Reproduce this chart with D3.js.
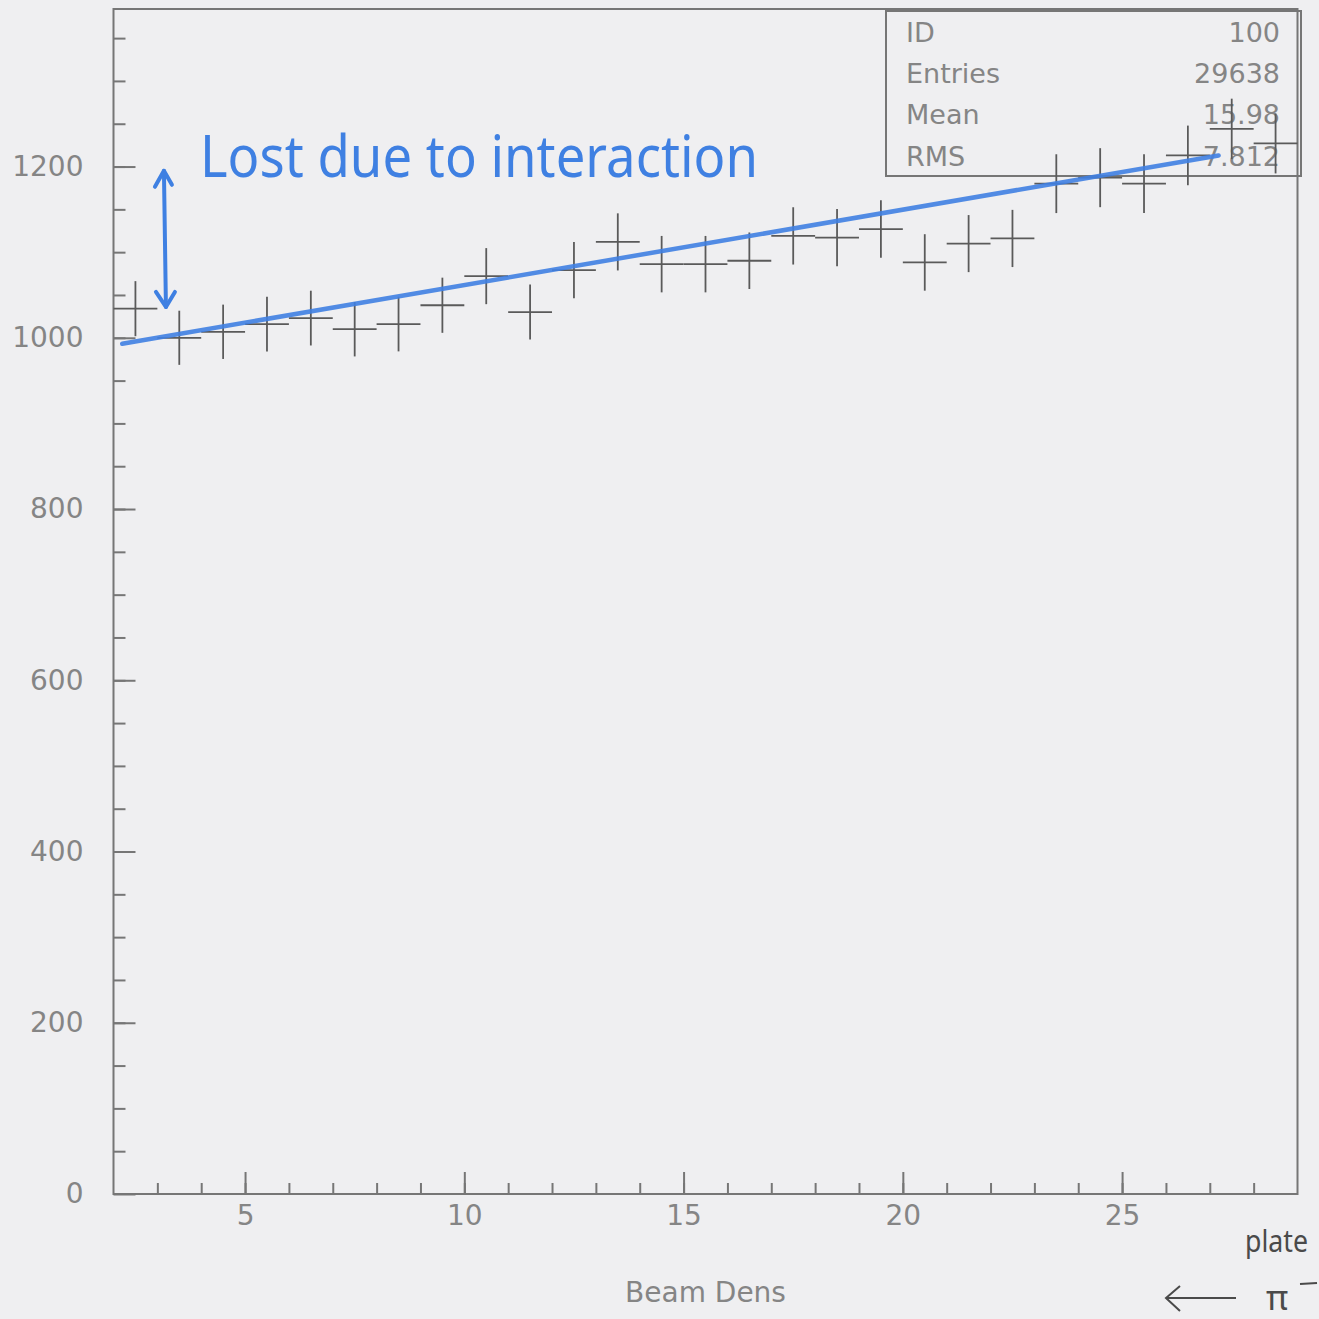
<!DOCTYPE html>
<html>
<head>
<meta charset="utf-8">
<script src="https://cdn.jsdelivr.net/npm/d3@7"></script>
<style>
  html, body { margin: 0; padding: 0; background: #efeff1; }
  svg { display: block; }
</style>
</head>
<body>
<svg id="chart" width="1319" height="1319"></svg>
<script>
// ---- data ----
const binCenters = [2.5,3.5,4.5,5.5,6.5,7.5,8.5,9.5,10.5,11.5,12.5,13.5,14.5,15.5,16.5,17.5,18.5,19.5,20.5,21.5,22.5,23.5,24.5,25.5,26.5,27.5,28.5];
const binCounts  = [1034,1000,1007,1016,1023,1010,1016,1038,1072,1030,1079,1112,1086,1086,1090,1119,1117,1127,1088,1110,1116,1180,1187,1180,1213,1244,1227];
const binWidth = 1;
const fitX = [2.2, 27.2];
const fitY = [993, 1213];
const xTickLabels = [5, 10, 15, 20, 25];
const yTickLabels = [0, 200, 400, 600, 800, 1000, 1200];
const statNames  = ["ID", "Entries", "Mean", "RMS"];
const statValues = ["100", "29638", "15.98", "7.812"];
const xTitle = "Beam Dens";
const noteText = "Lost due to interaction";
const noteArrowX = 3.15;
const noteArrowY = [1195, 1036];

// ---- layout ----
const svg = d3.select("#chart");
const x = d3.scaleLinear().domain([2, 29]).range([113.5, 1297.5]);
const y = d3.scaleLinear().domain([0, 1384]).range([1194, 9]);
const axisColor = "#767676";
const labelColor = "#858585";
const blue = "#3f80e2";
const font = "'DejaVu Sans', sans-serif";

// stats box (drawn under data)
const sb = {x0: 886, y0: 11, x1: 1301, y1: 176};
svg.append("rect").attr("x", sb.x0).attr("y", sb.y0)
  .attr("width", sb.x1 - sb.x0).attr("height", sb.y1 - sb.y0)
  .attr("fill", "none").attr("stroke", axisColor).attr("stroke-width", 2);
const rowY = d3.scalePoint().domain(statNames).range([32, 156]);
svg.append("g").selectAll("text").data(statNames).join("text")
  .attr("x", 906).attr("y", d => rowY(d)).attr("dy", "0.36em")
  .attr("font-family", font).attr("font-size", 27).attr("fill", labelColor)
  .text(d => d);
svg.append("g").selectAll("text").data(statValues).join("text")
  .attr("x", 1280).attr("y", (d, i) => rowY(statNames[i])).attr("dy", "0.36em")
  .attr("text-anchor", "end")
  .attr("font-family", font).attr("font-size", 27).attr("fill", labelColor)
  .text(d => d);

// frame
svg.append("rect").attr("x", x(2)).attr("y", y(1384))
  .attr("width", x(29) - x(2)).attr("height", y(0) - y(1384))
  .attr("fill", "none").attr("stroke", axisColor).attr("stroke-width", 2);

// y axis: minor and major ticks (inward)
const yMinor = d3.range(50, 1384, 50);
svg.append("g").attr("transform", `translate(${x(2)},0)`)
  .call(d3.axisLeft(y).tickValues(yMinor).tickSize(-12).tickFormat(""))
  .call(g => g.select(".domain").remove())
  .call(g => g.selectAll("line").attr("stroke", axisColor).attr("stroke-width", 2));
svg.append("g").attr("transform", `translate(${x(2)},0)`)
  .call(d3.axisLeft(y).tickValues(yTickLabels).tickSize(-22).tickPadding(30).tickFormat(d3.format("d")))
  .call(g => g.select(".domain").remove())
  .call(g => g.selectAll("line").attr("stroke", axisColor).attr("stroke-width", 2))
  .call(g => g.selectAll("text").attr("font-family", font).attr("font-size", 28).attr("fill", labelColor));

// x axis
const xMinor = d3.range(3, 29, 1);
svg.append("g").attr("transform", `translate(0,${y(0)})`)
  .call(d3.axisBottom(x).tickValues(xMinor).tickSize(-11).tickFormat(""))
  .call(g => g.select(".domain").remove())
  .call(g => g.selectAll("line").attr("stroke", axisColor).attr("stroke-width", 2));
svg.append("g").attr("transform", `translate(0,${y(0)})`)
  .call(d3.axisBottom(x).tickValues(xTickLabels).tickSize(-22).tickPadding(11).tickFormat(d3.format("d")))
  .call(g => g.select(".domain").remove())
  .call(g => g.selectAll("line").attr("stroke", axisColor).attr("stroke-width", 2))
  .call(g => g.selectAll("text").attr("font-family", font).attr("font-size", 28).attr("fill", labelColor));

// x title
svg.append("text").attr("x", x(15.5)).attr("y", 1292).attr("dy", "0.36em")
  .attr("text-anchor", "middle").attr("font-family", font).attr("font-size", 28)
  .attr("fill", labelColor).text(xTitle);

// data crosses (horizontal = bin width, vertical = sqrt(N))
const pts = binCenters.map((c, i) => ({c, n: binCounts[i]}));
const crosses = svg.append("g").attr("stroke", "#5a5a5a").attr("stroke-width", 1.8);
crosses.selectAll("line.h").data(pts).join("line").attr("class", "h")
  .attr("x1", d => x(d.c - binWidth / 2)).attr("x2", d => x(d.c + binWidth / 2))
  .attr("y1", d => y(d.n)).attr("y2", d => y(d.n));
crosses.selectAll("line.v").data(pts).join("line").attr("class", "v")
  .attr("x1", d => x(d.c)).attr("x2", d => x(d.c))
  .attr("y1", d => y(d.n + Math.sqrt(d.n))).attr("y2", d => y(d.n - Math.sqrt(d.n)));

// hand-drawn fit line
svg.append("path")
  .datum(fitX.map((v, i) => [v, fitY[i]]))
  .attr("d", d3.line().x(d => x(d[0])).y(d => y(d[1])))
  .attr("fill", "none").attr("stroke", blue).attr("stroke-width", 4.5)
  .attr("stroke-linecap", "round").attr("opacity", 0.9);

// annotation: double arrow + text
const ax = x(noteArrowX), ay1 = y(noteArrowY[0]), ay2 = y(noteArrowY[1]);
const ann = svg.append("g").attr("stroke", blue).attr("stroke-width", 4)
  .attr("fill", "none").attr("stroke-linecap", "round").attr("stroke-linejoin", "round");
ann.append("line").attr("x1", ax).attr("y1", ay1).attr("x2", ax + 2).attr("y2", ay2);
ann.append("path").attr("d", d3.line()([[ax - 9, ay1 + 16], [ax, ay1], [ax + 8, ay1 + 14]]));
ann.append("path").attr("d", d3.line()([[ax - 8, ay2 - 15], [ax + 2, ay2], [ax + 11, ay2 - 15]]));
svg.append("text").attr("x", 200).attr("y", 177)
  .attr("font-family", "'Noto Sans', sans-serif").attr("font-size", 58)
  .attr("fill", blue).attr("textLength", 558).attr("lengthAdjust", "spacingAndGlyphs")
  .text(noteText);

// bottom-right handwritten note
const hand = "#4a4a4a";
svg.append("text").attr("x", 1245).attr("y", 1252)
  .attr("font-family", "'Noto Sans', sans-serif").attr("font-size", 30)
  .attr("fill", hand).attr("textLength", 63).attr("lengthAdjust", "spacingAndGlyphs").text("plate");
const ar = svg.append("g").attr("stroke", hand).attr("stroke-width", 2).attr("fill", "none");
ar.append("line").attr("x1", 1166).attr("y1", 1298).attr("x2", 1236).attr("y2", 1298);
ar.append("path").attr("d", d3.line()([[1180, 1286], [1166, 1298], [1180, 1311]]));
svg.append("text").attr("x", 1266).attr("y", 1310)
  .attr("font-family", "'Noto Sans', sans-serif").attr("font-size", 34)
  .attr("fill", hand).text("π");
svg.append("line").attr("x1", 1300).attr("x2", 1317).attr("y1", 1284).attr("y2", 1283)
  .attr("stroke", hand).attr("stroke-width", 2);
</script>
</body>
</html>
